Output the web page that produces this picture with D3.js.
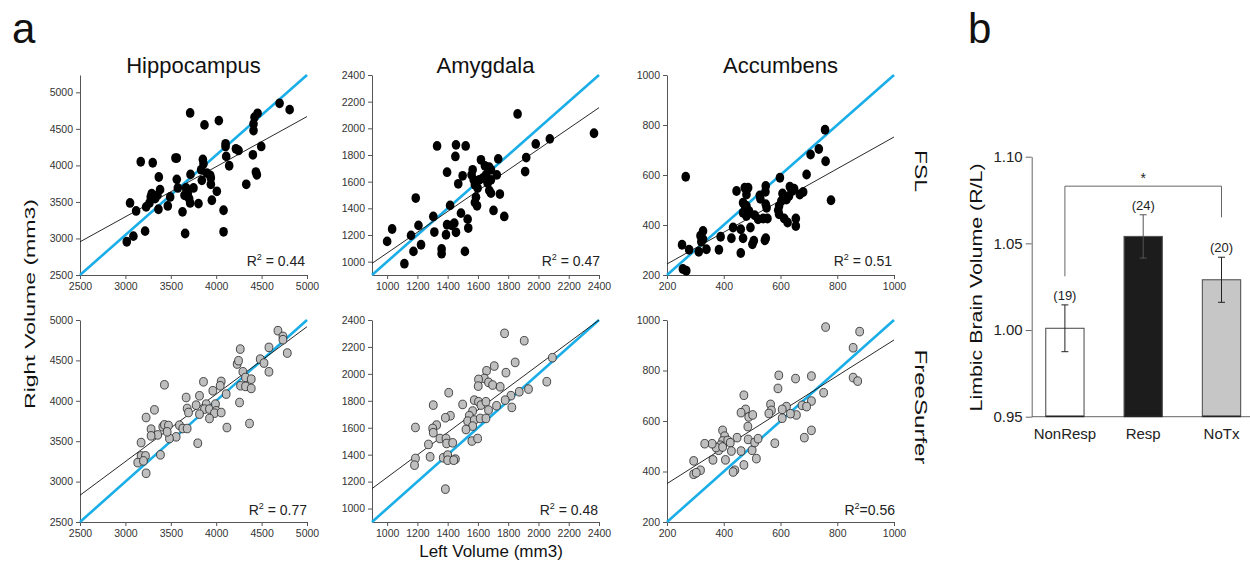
<!DOCTYPE html>
<html><head><meta charset="utf-8">
<script src="https://cdn.jsdelivr.net/npm/d3@7"></script>
<style>body{margin:0;background:#fff} svg{display:block} text{font-family:"Liberation Sans",Arial,Helvetica,sans-serif}</style>
</head><body><svg id="c" width="1250" height="567"></svg>
<script>
// ---------- DATA ----------
const regions = ["Hippocampus", "Amygdala", "Accumbens"];
const methods = ["FSL", "FreeSurfer"];
const hippTicks = [2500, 3000, 3500, 4000, 4500, 5000];
const amygTicks = [1000, 1200, 1400, 1600, 1800, 2000, 2200, 2400];
const accTicks = [200, 400, 600, 800, 1000];
const hippDomainFSL = [2500, 5237];
const hippDomainFS = [2500, 5000];
const amygDomain = [900, 2400];
const accDomain = [200, 1000];
const r2Labels = ["R² = 0.44", "R² = 0.47", "R² = 0.51", "R² = 0.77", "R² = 0.48", "R²=0.56"];

const hippFSL = [[4698,4850],[4809,4763],[3713,4718],[3871,4554],[4029,4613],[4456,4713],[4422,4659],[4411,4568],[4411,4477],[4103,4295],[4103,4259],[4217,4227],[4246,4205],[4496,4259],[4110,4123],[4143,3995],[4404,4145],[4437,3909],[4448,3872],[4331,3741],[3169,4050],[3301,4036],[3551,4100],[3566,4100],[3853,4082],[3860,4023],[3834,3941],[3897,3895],[3934,3864],[3941,3827],[3941,3741],[3842,3795],[3717,3877],[3566,3809],[3368,3841],[3577,3691],[3669,3691],[3676,3659],[3750,3691],[3687,3614],[3702,3545],[3713,3486],[3651,3591],[4007,3645],[3952,3523],[3805,3477],[3493,3568],[3467,3445],[3382,3668],[3353,3591],[3290,3614],[3279,3568],[3327,3545],[3265,3486],[3228,3432],[3364,3400],[3051,3486],[3118,3377],[3217,3100],[3088,3032],[3015,2955],[3629,3364],[3658,3068],[4081,3386],[4081,3091]];
const amygFSL = [[1862,2108],[2367,1963],[2075,1921],[1982,1883],[1919,1781],[1912,1676],[1734,1771],[1725,1651],[1745,1507],[1774,1339],[1703,1384],[1620,1764],[1646,1719],[1675,1709],[1686,1689],[1653,1651],[1631,1626],[1664,1589],[1686,1614],[1675,1534],[1686,1514],[1565,1689],[1558,1651],[1572,1614],[1580,1577],[1598,1552],[1587,1484],[1580,1444],[1594,1419],[1609,1614],[1499,1644],[1470,1584],[1396,1671],[1455,1876],[1519,1868],[1330,1868],[1451,1789],[1416,1422],[1488,1364],[1532,1319],[1536,1252],[1444,1289],[1455,1220],[1426,1272],[1396,1277],[1389,1202],[1360,1095],[1360,1060],[1514,1077],[1305,1339],[1312,1222],[1207,1272],[1189,1477],[1158,1197],[1224,1127],[1174,1077],[1114,985],[1033,1245],[1000,1152]];
const accFSL = [[757,781],[735,704],[706,682],[759,655],[778,499],[692,602],[680,532],[668,522],[648,545],[641,536],[630,516],[621,502],[607,526],[603,496],[595,476],[592,459],[595,443],[598,589],[613,426],[625,410],[654,426],[654,396],[548,556],[547,533],[527,518],[529,505],[548,483],[551,469],[554,426],[548,347],[545,339],[539,426],[521,423],[509,439],[486,449],[480,436],[633,553],[474,549],[486,549],[480,522],[468,489],[480,476],[489,456],[468,449],[445,536],[474,480],[460,383],[494,390],[468,347],[433,390],[427,347],[460,288],[506,337],[501,323],[389,353],[383,301],[339,303],[327,343],[327,376],[318,357],[321,333],[312,293],[278,301],[253,321],[266,593],[256,224],[268,217]];
const hippFS = [[4680,4868],[4735,4797],[4735,4756],[4783,4591],[4581,4661],[4485,4516],[4526,4467],[4581,4359],[4265,4640],[4231,4455],[4246,4496],[4294,4359],[4323,4289],[4268,4186],[4323,4178],[4386,4268],[4386,4153],[4257,3979],[4367,3719],[4055,4240],[4044,4186],[4110,4083],[3963,4124],[3860,4235],[3890,3959],[3871,3897],[3926,3897],[3992,3959],[4000,3876],[3981,3847],[4055,3855],[3926,3781],[3816,4062],[3816,3835],[3779,3946],[3669,4041],[3680,3905],[3695,3855],[4118,3669],[3797,3475],[3595,3698],[3632,3657],[3680,3657],[3559,3554],[3485,3533],[3430,4198],[3320,3888],[3412,3678],[3430,3702],[3474,3694],[3460,3616],[3356,3578],[3283,3649],[3283,3566],[3228,3793],[3173,3483],[3386,3331],[3173,3318],[3221,3318],[3136,3235],[3199,3256],[3228,3103]];
const amygFS = [[1776,2301],[1906,2246],[1846,2085],[1708,2058],[2092,2120],[1785,2009],[1657,2023],[1642,1966],[1604,1959],[1670,1937],[1697,1917],[1602,1909],[1747,1904],[2055,1942],[1934,1887],[1873,1867],[1818,1838],[1780,1805],[1824,1751],[1723,1763],[1576,1805],[1604,1793],[1620,1768],[1653,1793],[1670,1731],[1565,1724],[1543,1689],[1532,1649],[1576,1657],[1565,1612],[1615,1669],[1653,1669],[1521,1587],[1560,1501],[1598,1520],[1499,1773],[1407,1860],[1418,1689],[1385,1674],[1305,1768],[1327,1620],[1301,1595],[1305,1563],[1187,1602],[1349,1520],[1389,1520],[1393,1483],[1433,1488],[1273,1476],[1284,1384],[1187,1372],[1181,1322],[1371,1377],[1400,1397],[1400,1359],[1451,1367],[1440,1359],[1385,1144]];
const accFS = [[759,972],[879,954],[856,890],[856,772],[872,758],[752,712],[709,778],[653,768],[594,781],[591,729],[709,679],[676,662],[692,657],[684,534],[709,563],[621,657],[656,624],[635,629],[606,646],[606,611],[565,666],[568,642],[559,630],[580,512],[471,702],[477,646],[461,633],[488,616],[502,624],[485,578],[486,527],[447,534],[461,481],[500,484],[509,515],[521,530],[515,451],[471,426],[396,563],[403,540],[396,521],[388,504],[382,484],[373,495],[396,497],[414,523],[423,514],[406,446],[427,481],[439,405],[433,398],[362,446],[359,510],[333,510],[318,405],[294,442],[294,389],[303,395]];

const hippFSLFit = [[2500,2954],[5000,4668]];
const amygFSLFit = [[900,987],[2400,2155]];
const accFSLFit = [[200,244],[1000,752]];
const hippFSFit = [[2500,2831],[5000,4917]];
const amygFSFit = [[900,1148],[2400,2400]];
const accFSFit = [[200,352],[1000,921]];

const groups = ["NonResp", "Resp", "NoTx"];
const means = [1.001, 1.054, 1.029];
const sems = [0.0135, 0.0125, 0.013];
const groupN = ["(19)", "(24)", "(20)"];
const barTicks = [0.95, 1.00, 1.05, 1.10];
const sigBracket = [1.031, 1.083, 1.065]; // left end, top, right end
const sigLabel = "*";

// ---------- DRAW ----------
const svg = d3.select("#c");
const blue = "#1aaee8";
const axisCol = "#555";

const panels = [
  {pts: hippFSL, fit: hippFSLFit, xd: [2500,5000], yd: hippDomainFSL, tx: hippTicks, ty: hippTicks, row: 0, col: 0},
  {pts: amygFSL, fit: amygFSLFit, xd: amygDomain, yd: amygDomain, tx: amygTicks, ty: amygTicks, row: 0, col: 1},
  {pts: accFSL, fit: accFSLFit, xd: accDomain, yd: accDomain, tx: accTicks, ty: accTicks, row: 0, col: 2},
  {pts: hippFS, fit: hippFSFit, xd: [2500,5000], yd: hippDomainFS, tx: hippTicks, ty: hippTicks, row: 1, col: 0},
  {pts: amygFS, fit: amygFSFit, xd: amygDomain, yd: amygDomain, tx: amygTicks, ty: amygTicks, row: 1, col: 1},
  {pts: accFS, fit: accFSFit, xd: accDomain, yd: accDomain, tx: accTicks, ty: accTicks, row: 1, col: 2}
];
const colX = [80, 372, 667];
const panelW = 227;
const rowY = [[275, 75], [522, 320]];
const r2Right = [[305, 600, 892], [307, 598, 895]];
const r2Base = [266, 515];

function styleAxis(g) {
  g.selectAll("path.domain").attr("stroke", axisCol).attr("stroke-width", 1);
  g.selectAll(".tick line").attr("stroke", axisCol);
  g.selectAll(".tick text").attr("fill", "#333").style("font-size", "10.5px")
    .style("font-family", '"Liberation Sans",Arial,sans-serif');
}

panels.forEach((p, i) => {
  const x = d3.scaleLinear().domain(p.xd).range([colX[p.col], colX[p.col] + panelW]);
  const y = d3.scaleLinear().domain(p.yd).range(rowY[p.row]);
  const g = svg.append("g");

  const gx = g.append("g").attr("transform", `translate(0,${rowY[p.row][0]})`)
    .call(d3.axisBottom(x).tickValues(p.tx).tickSize(4).tickSizeOuter(0).tickPadding(4).tickFormat(d3.format("d")));
  styleAxis(gx);
  const gy = g.append("g").attr("transform", `translate(${colX[p.col]},0)`)
    .call(d3.axisLeft(y).tickValues(p.ty).tickSize(4).tickSizeOuter(0).tickPadding(3).tickFormat(d3.format("d")));
  styleAxis(gy);

  // identity line (corner to corner)
  g.append("line")
    .attr("x1", x(p.xd[0])).attr("y1", y(p.yd[0]))
    .attr("x2", x(p.xd[1])).attr("y2", y(p.yd[1]))
    .attr("stroke", blue).attr("stroke-width", 2.6);
  // regression line
  g.append("line")
    .attr("x1", x(p.fit[0][0])).attr("y1", y(p.fit[0][1]))
    .attr("x2", x(p.fit[1][0])).attr("y2", y(p.fit[1][1]))
    .attr("stroke", "#111").attr("stroke-width", 0.9);

  const top = p.row === 0;
  g.selectAll("ellipse.pt").data(p.pts).join("ellipse")
    .attr("cx", d => x(d[0])).attr("cy", d => y(d[1]))
    .attr("rx", top ? 4.3 : 3.9).attr("ry", top ? 4.9 : 4.3)
    .attr("fill", top ? "#000" : "#bfbfbf")
    .attr("stroke", top ? "none" : "#222").attr("stroke-width", 0.8);

  // R² label
  const lab = r2Labels[i];
  const t = g.append("text").attr("x", r2Right[p.row][p.col]).attr("y", r2Base[p.row])
    .attr("text-anchor", "end").attr("fill", "#222").style("font-size", "14px");
  const parts = lab.split("²");
  t.append("tspan").text(parts[0]);
  t.append("tspan").attr("dy", -6).style("font-size", "9px").text("2");
  t.append("tspan").attr("dy", 6).text(parts[1]);
});

// titles
regions.forEach((r, c) => {
  svg.append("text").attr("x", colX[c] + panelW / 2).attr("y", 73)
    .attr("text-anchor", "middle").attr("fill", "#111").style("font-size", "22px").text(r);
});
// method labels
svg.append("text").attr("transform", "translate(915,171) rotate(90)")
  .attr("text-anchor", "middle").attr("fill", "#111").style("font-size", "16px")
  .attr("textLength", 42).attr("lengthAdjust", "spacingAndGlyphs").text(methods[0]);
svg.append("text").attr("transform", "translate(915,407) rotate(90)")
  .attr("text-anchor", "middle").attr("fill", "#111").style("font-size", "16px")
  .attr("textLength", 115).attr("lengthAdjust", "spacingAndGlyphs").text(methods[1]);
// axis labels
svg.append("text").attr("transform", "translate(35,304) rotate(-90)")
  .attr("text-anchor", "middle").attr("fill", "#111").style("font-size", "15px")
  .attr("textLength", 210).attr("lengthAdjust", "spacingAndGlyphs").text("Right Volume (mm3)");
svg.append("text").attr("x", 491).attr("y", 557)
  .attr("text-anchor", "middle").attr("fill", "#111").style("font-size", "17px").text("Left Volume (mm3)");
// panel letters
svg.append("text").attr("x", 12).attr("y", 43).attr("fill", "#111").style("font-size", "42px").text("a");
svg.append("text").attr("x", 968).attr("y", 43).attr("fill", "#111").style("font-size", "42px").text("b");

// ---------- BAR CHART ----------
const by = d3.scaleLinear().domain([0.95, 1.10]).range([416.7, 156.7]);
const bx = d3.scalePoint().domain(groups).range([1064.9, 1221.5]);
const barW = 38.3;
const axisX = 1031.7;

const gby = svg.append("g").attr("transform", `translate(${axisX},0)`)
  .call(d3.axisLeft(by).tickValues(barTicks).tickSize(6).tickSizeOuter(0).tickPadding(3).tickFormat(d3.format(".2f")));
gby.selectAll("path.domain").attr("stroke", "#666");
gby.selectAll(".tick line").attr("stroke", "#666");
gby.selectAll(".tick text").attr("fill", "#222").style("font-size", "15px");

svg.append("line").attr("x1", axisX).attr("x2", 1250).attr("y1", by(0.95)).attr("y2", by(0.95))
  .attr("stroke", "#666").attr("stroke-width", 1);

const fills = ["#ffffff", "#1c1c1c", "#c6c6c6"];
groups.forEach((gname, i) => {
  const cx = bx(gname);
  svg.append("rect").attr("x", cx - barW / 2).attr("y", by(means[i]))
    .attr("width", barW).attr("height", by(0.95) - by(means[i]))
    .attr("fill", fills[i]).attr("stroke", "#555").attr("stroke-width", 1.1);
  svg.append("line").attr("x1", cx - barW / 2).attr("x2", cx + barW / 2)
    .attr("y1", by(0.95) - 0.5).attr("y2", by(0.95) - 0.5).attr("stroke", "#222").attr("stroke-width", 1.6);
  const hi = means[i] + sems[i], lo = means[i] - sems[i];
  const ec = i === 1 ? "#555" : "#222";
  svg.append("line").attr("x1", cx).attr("x2", cx).attr("y1", by(hi)).attr("y2", by(lo))
    .attr("stroke", ec).attr("stroke-width", 1);
  [hi, lo].forEach(v => svg.append("line").attr("x1", cx - 3.5).attr("x2", cx + 3.5)
    .attr("y1", by(v)).attr("y2", by(v)).attr("stroke", ec).attr("stroke-width", 1));
  svg.append("text").attr("x", cx).attr("y", by(hi) - 5).attr("text-anchor", "middle")
    .attr("fill", "#222").style("font-size", "13px").text(groupN[i]);
  svg.append("text").attr("x", cx).attr("y", 439).attr("text-anchor", "middle")
    .attr("fill", "#222").style("font-size", "15px").text(gname);
});
// significance bracket
const bxL = bx(groups[0]), bxR = bx(groups[2]);
svg.append("path")
  .attr("d", `M${bxL},${by(sigBracket[0])}V${by(sigBracket[1])}H${bxR}V${by(sigBracket[2])}`)
  .attr("fill", "none").attr("stroke", "#666").attr("stroke-width", 1);
svg.append("text").attr("x", (bxL + bxR) / 2).attr("y", by(sigBracket[1]) - 3)
  .attr("text-anchor", "middle").attr("fill", "#222").style("font-size", "14px").text(sigLabel);

svg.append("text").attr("transform", "translate(982,287.5) rotate(-90)")
  .attr("text-anchor", "middle").attr("fill", "#111").style("font-size", "16px")
  .attr("textLength", 248).attr("lengthAdjust", "spacingAndGlyphs").text("Limbic Brain Volume (R/L)");
</script></body></html>
